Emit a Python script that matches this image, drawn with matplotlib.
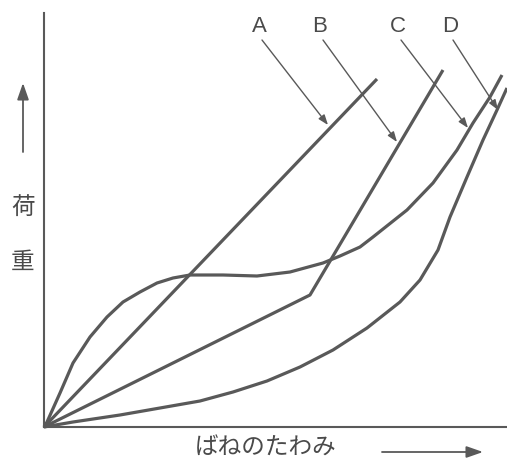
import numpy as np
import matplotlib.pyplot as plt

plt.rcParams['font.family'] = ['Noto Sans CJK JP', 'DejaVu Sans']

# load vs spring deflection (origin = 0,0)
a_x = [0, 333]
a_y = [0, 348]

b_x = [0, 266, 399]
b_y = [0, 132, 357]

c_x = [0, 3, 16, 29, 46, 63, 79, 96, 113, 129, 146, 179, 213, 246, 279, 296, 316,
       329, 363, 389, 413, 429, 446, 458]
c_y = [0, 5, 34, 64, 90, 110, 125, 135, 144, 149, 152, 152, 151, 155, 164, 171, 180,
       190, 217, 244, 277, 304, 330, 352]

d_x = [0, 29, 76, 116, 156, 189, 223, 256, 289, 323, 356, 376, 394, 406, 423, 439, 453, 463]
d_y = [0, 5, 12, 19, 26, 35, 46, 60, 77, 99, 125, 147, 177, 210, 250, 287, 317, 339]

names = ['A', 'B', 'C', 'D']
label_x = [215, 276, 354, 406]
tip_x = [284, 353, 424, 454]
tip_y = [302, 285, 299, 317]

grey = '#595959'

fig = plt.figure(figsize=(5.07, 4.62), dpi=100)
ax = fig.add_axes([0, 0, 1, 1])
ax.set_xlim(-44, 463)
ax.set_ylim(-35, 427)

for xs, ys in [(a_x, a_y), (b_x, b_y), (c_x, c_y), (d_x, d_y)]:
    ax.plot(xs, ys, color=grey, lw=2.3, solid_capstyle='butt', solid_joinstyle='round')

# axes lines
ax.spines['right'].set_visible(False)
ax.spines['top'].set_visible(False)
ax.spines['left'].set_position(('data', 0))
ax.spines['bottom'].set_position(('data', 0))
ax.spines['left'].set_bounds(0, 414)
ax.spines['bottom'].set_bounds(0, 463)
for s in ['left', 'bottom']:
    ax.spines[s].set_color(grey)
    ax.spines[s].set_linewidth(1.5)
ax.set_xticks([])
ax.set_yticks([])

# curve labels with leader arrows
for n, lx, tx, ty in zip(names, label_x, tip_x, tip_y):
    ax.text(lx, 400, n, ha='center', va='center', fontsize=16,
            color='#4a4a4a', family='Liberation Sans')
    ax.annotate('', xy=(tx, ty), xytext=(lx + 3, 387),
                arrowprops=dict(arrowstyle='-|>,head_length=0.6,head_width=0.22',
                                color=grey, lw=1.0, shrinkA=0, shrinkB=0))

# axis titles and direction arrows
ax.text(-21, 220, '荷', ha='center', va='center', fontsize=17, color='#4a4a4a')
ax.text(-21, 165, '重', ha='center', va='center', fontsize=17, color='#4a4a4a')
ax.annotate('', xy=(-21, 344), xytext=(-21, 275),
            arrowprops=dict(arrowstyle='-|>,head_length=1.0,head_width=0.35',
                            color=grey, lw=1.3, shrinkA=0, shrinkB=0))
ax.text(222, -21, 'ばねのたわみ', ha='center', va='center', fontsize=17, color='#4a4a4a')
ax.annotate('', xy=(439, -25), xytext=(338, -25),
            arrowprops=dict(arrowstyle='-|>,head_length=1.0,head_width=0.35',
                            color=grey, lw=1.3, shrinkA=0, shrinkB=0))

fig.savefig('out.png', dpi=100)
